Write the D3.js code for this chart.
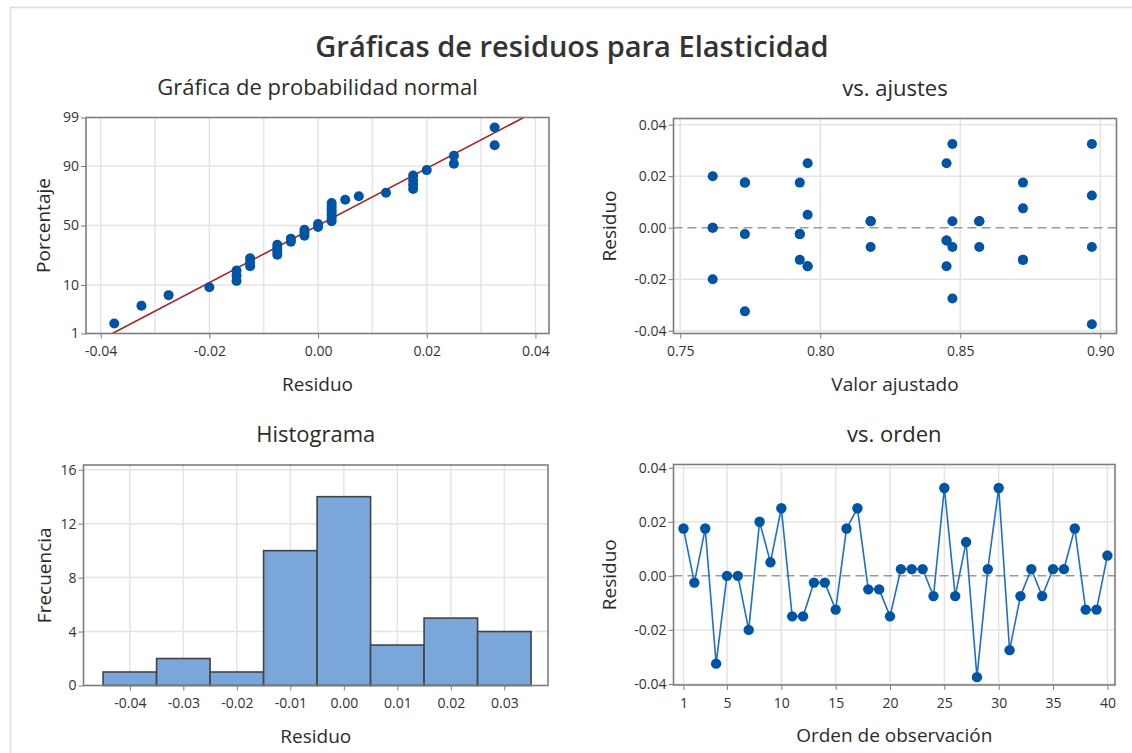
<!DOCTYPE html>
<html>
<head>
<meta charset="utf-8">
<script src="https://cdn.jsdelivr.net/npm/d3@7"></script>
<style>
  html, body { margin: 0; padding: 0; background: #fff; }
  text { font-family: "Open Sans", "Noto Sans", sans-serif; fill: #2b2b2b; }
</style>
</head>
<body>
<script>
// Residuals in observation order (1..40)
const residuos = [
  0.0175, -0.0025, 0.0175, -0.0325,
  0.0000, 0.0000, -0.0200, 0.0200,
  0.0050, 0.0250, -0.0150, -0.0150,
  -0.0025, -0.0025, -0.0125, 0.0175,
  0.0250, -0.0050, -0.0050, -0.0150,
  0.0025, 0.0025, 0.0025, -0.0075,
  0.0325, -0.0075, 0.0125, -0.0375,
  0.0025, 0.0325, -0.0275, -0.0075,
  0.0025, -0.0075, 0.0025, 0.0025,
  0.0175, -0.0125, -0.0125, 0.0075
];
// Fitted values for the same observations
const ajustados = [
  0.7731, 0.7731, 0.7731, 0.7731,
  0.7616, 0.7616, 0.7616, 0.7616,
  0.7955, 0.7955, 0.7955, 0.7955,
  0.7927, 0.7927, 0.7927, 0.7927,
  0.8451, 0.8451, 0.8451, 0.8451,
  0.8180, 0.8180, 0.8180, 0.8180,
  0.8970, 0.8970, 0.8970, 0.8970,
  0.8472, 0.8472, 0.8472, 0.8472,
  0.8568, 0.8568, 0.8568, 0.8568,
  0.8724, 0.8724, 0.8724, 0.8724
];
// Histogram of residuals: bin midpoints and counts
const histMedios = [-0.04, -0.03, -0.02, -0.01, 0.00, 0.01, 0.02, 0.03];
const histFrecuencias = [1, 2, 1, 10, 14, 3, 5, 4];

// Tick labels
const probTicks = [1, 10, 50, 90, 99];
const probGrid = [10, 50, 90];
const resTicksLabeled = [-0.04, -0.02, 0.00, 0.02, 0.04];
const resGrid = [-0.04, -0.03, -0.02, -0.01, 0.00, 0.01, 0.02, 0.03, 0.04];
const ajusteTicks = [0.75, 0.80, 0.85, 0.90];
const frecTicks = [0, 4, 8, 12, 16];
const ordenTicks = [1, 5, 10, 15, 20, 25, 30, 35, 40];

const W = 1132, H = 753;
const COL_PT = "#0054a6", COL_LINE = "#1f6fc8", COL_FIT = "#a3262a";
const COL_GRID = "#e4e4e4", COL_FRAME = "#7d7d7d";

// Inverse standard normal CDF (Acklam's rational approximation)
function qnorm(p) {
  const a = [-3.969683028665376e+01, 2.209460984245205e+02, -2.759285104469687e+02, 1.383577518672690e+02, -3.066479806614716e+01, 2.506628277459239e+00];
  const b = [-5.447609879822406e+01, 1.615858368580409e+02, -1.556989798598866e+02, 6.680131188771972e+01, -1.328068155288572e+01];
  const c = [-7.784894002430293e-03, -3.223964580411365e-01, -2.400758277161838e+00, -2.549732539343734e+00, 4.374664141464968e+00, 2.938163982698783e+00];
  const d = [7.784695709041462e-03, 3.224671290700398e-01, 2.445134137142996e+00, 3.754408661907416e+00];
  const pl = 0.02425;
  let q, r;
  if (p < pl) {
    q = Math.sqrt(-2 * Math.log(p));
    return (((((c[0]*q+c[1])*q+c[2])*q+c[3])*q+c[4])*q+c[5]) / ((((d[0]*q+d[1])*q+d[2])*q+d[3])*q+1);
  } else if (p <= 1 - pl) {
    q = p - 0.5; r = q * q;
    return (((((a[0]*r+a[1])*r+a[2])*r+a[3])*r+a[4])*r+a[5])*q / (((((b[0]*r+b[1])*r+b[2])*r+b[3])*r+b[4])*r+1);
  } else {
    q = Math.sqrt(-2 * Math.log(1 - p));
    return -(((((c[0]*q+c[1])*q+c[2])*q+c[3])*q+c[4])*q+c[5]) / ((((d[0]*q+d[1])*q+d[2])*q+d[3])*q+1);
  }
}

const svg = d3.select("body").append("svg").attr("width", W).attr("height", H);
svg.append("rect").attr("width", W).attr("height", H).attr("fill", "#fff");

// light outer border of the graph window
svg.append("path").attr("d", `M10.5,${H} V7.5 H${W}`)
  .attr("fill", "none").attr("stroke", "#dcdcdc").attr("stroke-width", 1.5);

svg.append("text").attr("x", 572).attr("y", 57).attr("text-anchor", "middle")
  .attr("font-size", 29).attr("font-weight", 600).style("fill", "#333")
  .text("Gráficas de residuos para Elasticidad");

// decimal labels with a plain hyphen for negatives
const f2 = v => d3.format(".2f")(v).replace("\u2212", "-");

// Generic panel: gridlines, frame, ticks, titles
function panel(cfg) {
  const g = svg.append("g");
  const { left, right, top, bottom, x, y } = cfg;
  const grid = g.append("g");
  (cfg.xGrid || []).forEach(v => grid.append("line")
    .attr("x1", x(v)).attr("x2", x(v)).attr("y1", top).attr("y2", bottom)
    .attr("stroke", COL_GRID).attr("stroke-width", 1.5));
  (cfg.yGrid || []).forEach(v => grid.append("line")
    .attr("y1", y(v)).attr("y2", y(v)).attr("x1", left).attr("x2", right)
    .attr("stroke", COL_GRID).attr("stroke-width", 1.5));
  const data = g.append("g");
  const frame = g.append("g");

  const xa = frame.append("g").attr("transform", `translate(0,${bottom})`)
    .call(d3.axisBottom(x).tickValues(cfg.xTicks).tickFormat(cfg.xFormat).tickSize(5).tickPadding(8));
  const ya = frame.append("g").attr("transform", `translate(${left},0)`)
    .call(d3.axisLeft(y).tickValues(cfg.yTicks).tickFormat(cfg.yFormat).tickSize(5).tickPadding(2));
  [xa, ya].forEach(a => {
    a.select(".domain").remove();
    a.selectAll("line").attr("stroke", COL_FRAME).attr("stroke-width", 1);
    a.selectAll("text").attr("font-size", 14).attr("font-family", null).style("fill", "#333");
  });
  frame.append("rect").attr("x", left).attr("y", top)
    .attr("width", right - left).attr("height", bottom - top)
    .attr("fill", "none").attr("stroke", COL_FRAME).attr("stroke-width", 1.6);

  const cx = (left + right) / 2;
  svg.append("text").attr("x", cx).attr("y", top - 23).attr("text-anchor", "middle")
    .attr("font-size", 22).text(cfg.title);
  svg.append("text").attr("x", cx).attr("y", bottom + 57).attr("text-anchor", "middle")
    .attr("font-size", 19).text(cfg.xLabel);
  svg.append("text").attr("transform", `translate(${cfg.yLabelX},${(top + bottom) / 2}) rotate(-90)`)
    .attr("text-anchor", "middle").attr("font-size", 19).text(cfg.yLabel);
  return data;
}

// ---- Normal probability plot ----
{
  const left = 86, right = 549, top = 117.5, bottom = 333.5;
  const x = d3.scaleLinear().domain([-0.0427, 0.0425]).range([left, right]);
  // vertical axis in normal-quantile units, labelled with percentages
  const zy = d3.scaleLinear().domain([qnorm(0.01), qnorm(0.99)]).range([bottom, top]);
  const data = panel({
    left, right, top, bottom, x, y: zy,
    xGrid: resGrid, yGrid: probGrid.map(p => qnorm(p / 100)),
    xTicks: resTicksLabeled, xFormat: f2,
    yTicks: probTicks.map(p => qnorm(p / 100)),
    yFormat: (z, i) => String(probTicks[i]),
    title: "Gráfica de probabilidad normal", xLabel: "Residuo", yLabel: "Porcentaje", yLabelX: 50
  });
  const n = residuos.length;
  const sorted = residuos.slice().sort(d3.ascending);
  const mu = d3.mean(residuos), sd = d3.deviation(residuos);
  // reference line for a normal distribution with the residuals' mean and SD
  const zLo = qnorm(0.01), zHi = qnorm(0.99);
  data.append("line")
    .attr("x1", x(mu + sd * zLo)).attr("y1", zy(zLo))
    .attr("x2", x(mu + sd * zHi)).attr("y2", zy(zHi))
    .attr("stroke", COL_FIT).attr("stroke-width", 1.6);
  data.selectAll("circle").data(sorted).join("circle")
    .attr("cx", d => x(d))
    .attr("cy", (d, i) => zy(qnorm((i + 1 - 0.3) / (n + 0.4))))
    .attr("r", 5).attr("fill", COL_PT);
}

// ---- Residuals versus fits ----
{
  const left = 673.5, right = 1116.5, top = 118.5, bottom = 333.5;
  const x = d3.scaleLinear().domain([0.7476, 0.9058]).range([left, right]);
  const y = d3.scaleLinear().domain([-0.0411, 0.0424]).range([bottom, top]);
  const data = panel({
    left, right, top, bottom, x, y,
    xGrid: ajusteTicks, yGrid: [-0.04, -0.02, 0.02, 0.04],
    xTicks: ajusteTicks, xFormat: f2, yTicks: resTicksLabeled, yFormat: f2,
    title: "vs. ajustes", xLabel: "Valor ajustado", yLabel: "Residuo", yLabelX: 616
  });
  data.append("line").attr("x1", left).attr("x2", right).attr("y1", y(0)).attr("y2", y(0))
    .attr("stroke", "#9a9a9a").attr("stroke-width", 1.5).attr("stroke-dasharray", "9,5");
  data.selectAll("circle").data(residuos).join("circle")
    .attr("cx", (d, i) => x(ajustados[i])).attr("cy", d => y(d))
    .attr("r", 5).attr("fill", COL_PT);
}

// ---- Histogram ----
{
  const left = 83.5, right = 548, top = 465, bottom = 685.5;
  const x = d3.scaleLinear().domain([-0.04866, 0.03816]).range([left, right]);
  const y = d3.scaleLinear().domain([0, 16.35]).range([bottom, top]);
  const data = panel({
    left, right, top, bottom, x, y,
    xGrid: histMedios, yGrid: [4, 8, 12, 16],
    xTicks: histMedios, xFormat: f2, yTicks: frecTicks, yFormat: d3.format("d"),
    title: "Histograma", xLabel: "Residuo", yLabel: "Frecuencia", yLabelX: 51
  });
  const w = 0.01;
  data.selectAll("rect").data(histFrecuencias).join("rect")
    .attr("x", (d, i) => x(histMedios[i] - w / 2))
    .attr("width", (d, i) => x(histMedios[i] + w / 2) - x(histMedios[i] - w / 2))
    .attr("y", d => y(d)).attr("height", d => y(0) - y(d))
    .attr("fill", "#7ba6d9").attr("stroke", "#3f4448").attr("stroke-width", 1.6);
}

// ---- Residuals versus order ----
{
  const left = 673.5, right = 1115, top = 464.5, bottom = 685;
  const x = d3.scaleLinear().domain([0.08, 40.7]).range([left, right]);
  const y = d3.scaleLinear().domain([-0.0404, 0.0412]).range([bottom, top]);
  const data = panel({
    left, right, top, bottom, x, y,
    xGrid: ordenTicks, yGrid: [-0.04, -0.02, 0.02, 0.04],
    xTicks: ordenTicks, xFormat: d3.format("d"), yTicks: resTicksLabeled, yFormat: f2,
    title: "vs. orden", xLabel: "Orden de observación", yLabel: "Residuo", yLabelX: 616
  });
  data.append("line").attr("x1", left).attr("x2", right).attr("y1", y(0)).attr("y2", y(0))
    .attr("stroke", "#9a9a9a").attr("stroke-width", 1.5).attr("stroke-dasharray", "9,5");
  data.append("path").datum(residuos)
    .attr("d", d3.line().x((d, i) => x(i + 1)).y(d => y(d)))
    .attr("fill", "none").attr("stroke", COL_LINE).attr("stroke-width", 1.6);
  data.selectAll("circle").data(residuos).join("circle")
    .attr("cx", (d, i) => x(i + 1)).attr("cy", d => y(d))
    .attr("r", 5.2).attr("fill", COL_PT);
}
</script>
</body>
</html>
